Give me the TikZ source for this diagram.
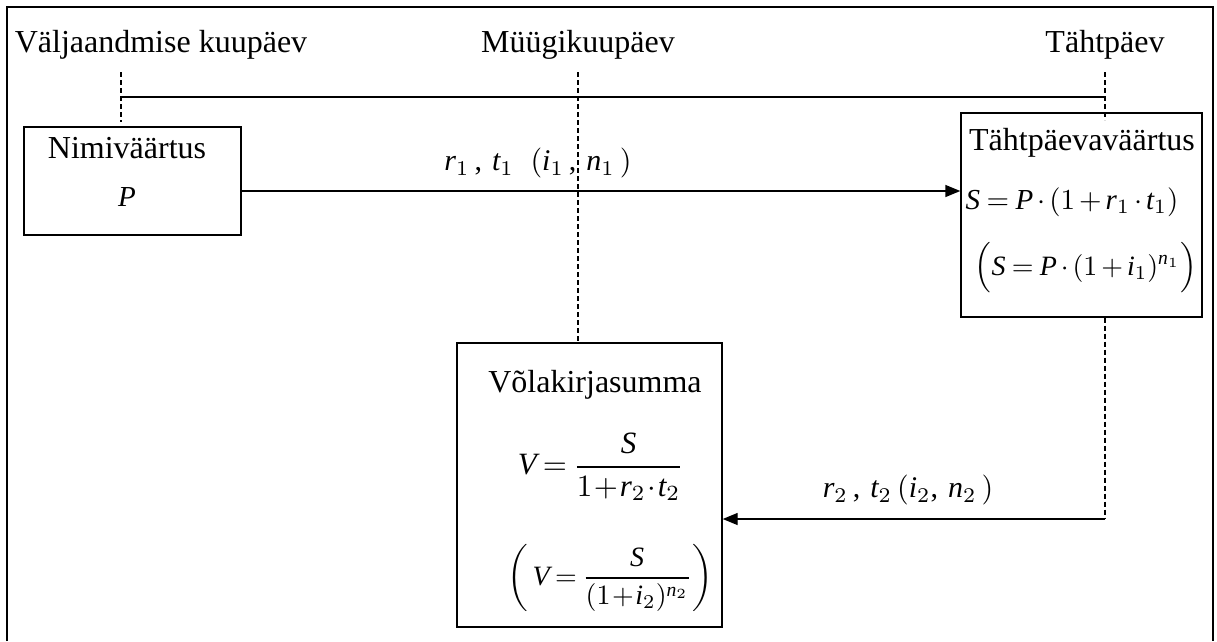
\documentclass[tikz,border=0pt]{standalone}
\usepackage{amsmath}
\usepackage{graphicx}
\usepackage{fontspec}
\setmainfont{Liberation Serif}
\DeclareSymbolFont{letters}{TU}{\rmdefault}{m}{it}
\mathcode`\,="602C
\usetikzlibrary{arrows.meta}
\newcommand\MyMath[2][2.9]{\scalebox{#1}{$#2$}}
\tikzset{
  txt/.style={inner sep=0pt, font=\fontsize{32}{38}\selectfont},
  mth/.style={inner sep=0pt},
  boxnode/.style={draw, line width=1.4pt, inner sep=0pt, minimum width=#1},
  dashln/.style={line width=1.1pt, dash pattern=on 5pt off 3pt},
  solidln/.style={line width=1.4pt},
  arr/.style={line width=1.4pt, -{Triangle[length=15pt,width=12pt]}},
}
\begin{document}
\begin{tikzpicture}[x=1pt,y=-1pt]
\useasboundingbox (0,0) rectangle (1217,641);
% frame
\draw[line width=2.2pt] (7,641) -- (7,7) -- (1213,7) -- (1213,641);
% top labels
\node[txt] (l1) at (161,45) {Väljaandmise kuupäev};
\node[txt] (l2) at (578,45) {Müügikuupäev};
\node[txt] (l3) at (1105,45) {Tähtpäev};
% boxes
\node[boxnode=217pt, minimum height=108pt] (b1) at (132.5,181) {};
\node[boxnode=241pt, minimum height=204pt] (b2) at (1081.5,215) {};
\node[boxnode=265pt, minimum height=284pt] (b3) at (589.5,485) {};
% box texts
\node[txt] (t1) at (127,148) {Nimiväärtus};
\node[mth] (p1) at (127,197) {\MyMath{P}};
\node[txt] (t2) at (1082,143) {Tähtpäevaväärtus};
\node[mth] (e1) at (1072,202) {\MyMath{\medmuskip=2.5mu\thickmuskip=4mu S=P\cdot(1+r_1\cdot t_1)}};
\node[mth] (e2) at (1086,268) {\MyMath[2.8]{\medmuskip=2.5mu\thickmuskip=4mu \Big(S=P\cdot(1+i_1)^{n_1}\Big)}};
\node[txt] (t3) at (595,385) {Võlakirjasumma};
\node[mth] (e3) at (601,467) {\MyMath[3.1]{\medmuskip=1mu\thickmuskip=3.5mu V=\dfrac{S}{1+r_2\cdot t_2}}};
\node[mth] (e4) at (610,578) {\MyMath[2.8]{\medmuskip=1mu\thickmuskip=3.5mu \left(\,V=\dfrac{S}{(1+i_2)^{n_2}}\right)}};
% connector labels
\node[mth] (a1) at (538,163) {\MyMath[3.0]{r_1\,,\,t_1\;\;(i_1\,,\,n_1\,)}};
\node[mth] (a2) at (908,490) {\MyMath[3.0]{r_2\,,\,t_2\,(i_2,\,n_2\,)}};
% time lines
\coordinate (c1) at (121,72);
\coordinate (c1b) at (121,122);
\coordinate (c1m) at (121,97);
\coordinate (c2) at (578,72);
\coordinate (c3) at (1105,72);
\coordinate (c3b) at (1105,120);
\coordinate (c3m) at (1105,97);
\coordinate (c4) at (1105,519);
\draw[dashln] (c1) -- (c1b);
\draw[dashln] (c3) -- (c3b);
\draw[dashln] (c2) -- (b3.north -| c2);
\draw[solidln] (c1m) -- (c3m);
\draw[arr] (b1.east |- 0,191) -- (b2.west |- 0,191);
\draw[dashln] (b2.south -| c4) -- (c4);
\draw[arr] (c4) -- (b3.east |- c4);
\end{tikzpicture}
\end{document}
